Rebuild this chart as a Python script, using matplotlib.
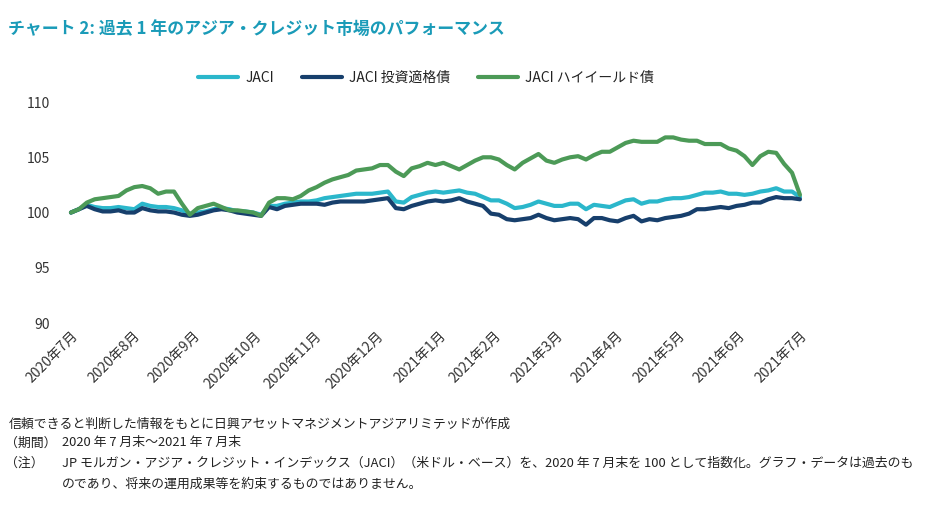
import matplotlib
matplotlib.use('Agg')
import matplotlib.pyplot as plt
import pandas as pd

plt.rcParams['font.family'] = ['Noto Sans CJK JP', 'DejaVu Sans']

# Data (index, end of Jul 2020 = 100) at ~4 day steps
dates = pd.date_range('2020-07-31', '2021-07-31', periods=93)

jaci = [100.0, 100.3, 100.7, 100.5, 100.4, 100.4, 100.5, 100.4, 100.3, 100.8,
        100.6, 100.5, 100.5, 100.4, 100.2, 99.9, 100.0, 100.1, 100.3, 100.4,
        100.3, 100.1, 100.1, 100.0, 99.8, 100.6, 100.6, 100.8, 100.9, 101.0,
        101.0, 101.1, 101.3, 101.4, 101.5, 101.6, 101.7, 101.7, 101.7, 101.8,
        101.9, 101.0, 100.9, 101.4, 101.6, 101.8, 101.9, 101.8, 101.9, 102.0,
        101.8, 101.7, 101.4, 101.1, 101.1, 100.8, 100.4, 100.5, 100.7, 101.0,
        100.8, 100.6, 100.6, 100.8, 100.8, 100.3, 100.7, 100.6, 100.5, 100.8,
        101.1, 101.2, 100.8, 101.0, 101.0, 101.2, 101.3, 101.3, 101.4, 101.6,
        101.8, 101.8, 101.9, 101.7, 101.7, 101.6, 101.7, 101.9, 102.0, 102.2,
        101.9, 101.9, 101.4]

jaci_ig = [100.0, 100.3, 100.6, 100.3, 100.1, 100.1, 100.2, 100.0, 100.0, 100.4,
           100.2, 100.1, 100.1, 100.0, 99.8, 99.7, 99.8, 100.0, 100.2, 100.3,
           100.2, 100.0, 99.9, 99.8, 99.7, 100.5, 100.3, 100.6, 100.7, 100.8,
           100.8, 100.8, 100.7, 100.9, 101.0, 101.0, 101.0, 101.0, 101.1, 101.2,
           101.3, 100.4, 100.3, 100.6, 100.8, 101.0, 101.1, 101.0, 101.1, 101.3,
           101.0, 100.8, 100.6, 99.9, 99.8, 99.4, 99.3, 99.4, 99.5, 99.8,
           99.5, 99.3, 99.4, 99.5, 99.4, 98.9, 99.5, 99.5, 99.3, 99.2,
           99.5, 99.7, 99.2, 99.4, 99.3, 99.5, 99.6, 99.7, 99.9, 100.3,
           100.3, 100.4, 100.5, 100.4, 100.6, 100.7, 100.9, 100.9, 101.2, 101.4,
           101.3, 101.3, 101.2]

jaci_hy = [100.0, 100.3, 100.9, 101.2, 101.3, 101.4, 101.5, 102.0, 102.3, 102.4,
           102.2, 101.7, 101.9, 101.9, 100.8, 99.8, 100.4, 100.6, 100.8, 100.5,
           100.2, 100.2, 100.1, 100.0, 99.7, 100.9, 101.3, 101.3, 101.2, 101.5,
           102.0, 102.3, 102.7, 103.0, 103.2, 103.4, 103.8, 103.9, 104.0, 104.3,
           104.3, 103.7, 103.3, 104.0, 104.2, 104.5, 104.3, 104.5, 104.2, 103.9,
           104.3, 104.7, 105.0, 105.0, 104.8, 104.3, 103.9, 104.5, 104.9, 105.3,
           104.7, 104.5, 104.8, 105.0, 105.1, 104.8, 105.2, 105.5, 105.5, 105.9,
           106.3, 106.5, 106.4, 106.4, 106.4, 106.8, 106.8, 106.6, 106.5, 106.5,
           106.2, 106.2, 106.2, 105.8, 105.6, 105.1, 104.3, 105.1, 105.5, 105.4,
           104.4, 103.6, 101.6]

labels = ['JACI', 'JACI 投資適格債', 'JACI ハイイールド債']
colors = ['#2bb7cb', '#173f6c', '#4c9a57']

tick_dates = pd.date_range('2020-07-31', '2021-07-31', freq='ME')
tick_labels = [f'{d.year}年{d.month}月' for d in tick_dates]

fig = plt.figure(figsize=(9.38, 5.18), dpi=100)
ax = fig.add_axes([0.0714, 0.3764, 0.7857, 0.4266])

for series, label, color in zip([jaci, jaci_ig, jaci_hy], labels, colors):
    ax.plot(dates, series, color=color, lw=3.0, label=label, solid_capstyle='round')

ax.set_ylim(90, 110)
ax.set_yticks([90, 95, 100, 105, 110])
ax.set_xlim(dates[0] - pd.Timedelta(days=2), dates[-1] + pd.Timedelta(days=2))
ax.set_xticks(tick_dates)
ax.set_xticklabels(tick_labels, rotation=45, ha='right', rotation_mode='anchor')
ax.tick_params(axis='both', length=0, labelsize=10, colors='#333333')
ax.tick_params(axis='y', pad=12)
ax.tick_params(axis='x', pad=4)
for s in ax.spines.values():
    s.set_visible(False)

ax.legend(loc='center', bbox_to_anchor=(0.487, 1.109), ncol=3, frameon=False,
          fontsize=10, handlelength=2.9, handletextpad=0.5, columnspacing=2.0,
          labelcolor='#222222')

fig.text(0.009, 0.942, 'チャート 2: 過去 1 年のアジア・クレジット市場のパフォーマンス',
         color='#1a9bb8', fontsize=12.2, fontweight='bold', va='center')

note_kw = dict(fontsize=9.3, color='#222222', va='center')
fig.text(0.009, 0.181, '信頼できると判断した情報をもとに日興アセットマネジメントアジアリミテッドが作成', **note_kw)
fig.text(0.005, 0.145, '（期間）', **note_kw)
fig.text(0.066, 0.145, '2020 年 7 月末～2021 年 7 月末', **note_kw)
fig.text(0.005, 0.105, '（注）', **note_kw)
fig.text(0.066, 0.105, 'JP モルガン・アジア・クレジット・インデックス（JACI）（米ドル・ベース）を、2020 年 7 月末を 100 として指数化。グラフ・データは過去のも', **note_kw)
fig.text(0.066, 0.065, 'のであり、将来の運用成果等を約束するものではありません。', **note_kw)

fig.savefig('out.png', dpi=100)
